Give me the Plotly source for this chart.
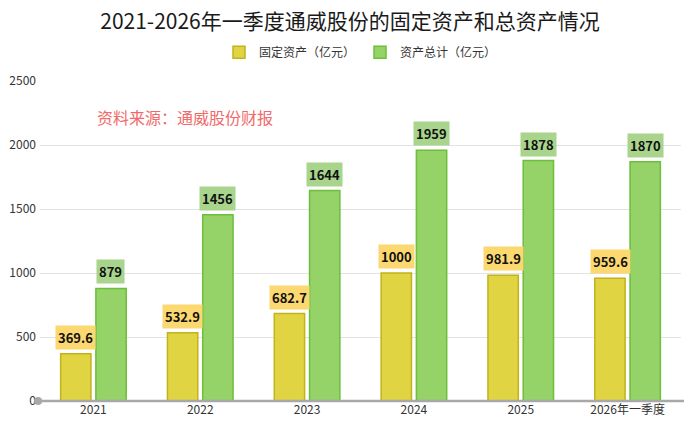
import plotly.graph_objects as go

years = ["2021", "2022", "2023", "2024", "2025", "2026年一季度"]
fixed_assets = [369.6, 532.9, 682.7, 1000, 981.9, 959.6]
total_assets = [879, 1456, 1644, 1959, 1878, 1870]
fixed_labels = ["369.6", "532.9", "682.7", "1000", "981.9", "959.6"]
total_labels = ["879", "1456", "1644", "1959", "1878", "1870"]
y_ticks = [0, 500, 1000, 1500, 2000, 2500]

FONT = "Noto Sans CJK SC"

fig = go.Figure()
fig.add_trace(go.Bar(
    name="固定资产（亿元）", x=years, y=fixed_assets,
    marker=dict(color="#E0D443", line=dict(color="#C2B21C", width=1.5)),
    hoverinfo="x+y",
))
fig.add_trace(go.Bar(
    name="资产总计（亿元）", x=years, y=total_assets,
    marker=dict(color="#95D267", line=dict(color="#6DBE3A", width=1.5)),
    hoverinfo="x+y",
))

# value labels with coloured boxes (x given as category index, since
# numeric-looking strings would be read as indices)
for ys, labs, bg, shift in [
    (fixed_assets, fixed_labels, "#FCD870", -17.5),
    (total_assets, total_labels, "#A8D48C", 17.5),
]:
    for i, (y, t) in enumerate(zip(ys, labs)):
        fig.add_annotation(
            x=i, y=y, xref="x", yref="y", text="<b>%s</b>" % t,
            showarrow=False, yanchor="bottom", xshift=shift, yshift=4,
            bgcolor=bg, borderpad=2,
            font=dict(family=FONT, size=13, color="#111111"),
        )

fig.add_annotation(
    x=0.086, y=0.8875, xref="paper", yref="paper", text="资料来源：通威股份财报",
    showarrow=False, xanchor="left", yanchor="middle",
    font=dict(family=FONT, size=16, color="#F06A6A"),
)

# x axis line with end dots
fig.add_shape(type="line", xref="paper", yref="paper", x0=-0.003, x1=1.011,
              y0=0, y1=0, line=dict(color="#A8A8A8", width=2.5))
for px_ in [-0.003, 1.011]:
    fig.add_shape(type="circle", xref="paper", yref="paper",
                  xsizemode="pixel", ysizemode="pixel",
                  xanchor=px_, yanchor=0, x0=-4, x1=4, y0=-4, y1=4,
                  fillcolor="#A8A8A8", line=dict(width=0))

# page body adds an 8px margin, so the figure is drawn 8px smaller
fig.update_layout(
    width=684, height=425,
    margin=dict(l=32, r=11, t=73, b=32),
    paper_bgcolor="white", plot_bgcolor="white",
    barmode="group", bargap=0.34, bargroupgap=0.14,
    title=dict(text="2021-2026年一季度通威股份的固定资产和总资产情况",
               x=0.5, xanchor="center", y=0.969, yanchor="middle",
               font=dict(family=FONT, size=21, color="#1A1A1A")),
    legend=dict(orientation="h", x=0.5, xanchor="center", y=1.09, yanchor="middle",
                font=dict(family=FONT, size=12, color="#333333"),
                itemwidth=30, traceorder="normal"),
    font=dict(family=FONT),
)
fig.update_xaxes(type="category", range=[-0.5, 5.5], showline=False,
                 showgrid=False, ticks="", automargin=False,
                 tickfont=dict(family=FONT, size=12, color="#333333"))
fig.update_yaxes(range=[0, 2500], tickvals=y_ticks, showgrid=True,
                 gridcolor="#E3E3E3", gridwidth=1, zeroline=False,
                 ticks="", automargin=False, ticklabelstandoff=3,
                 tickfont=dict(family=FONT, size=12, color="#333333"))

fig.write_html("out.html")
